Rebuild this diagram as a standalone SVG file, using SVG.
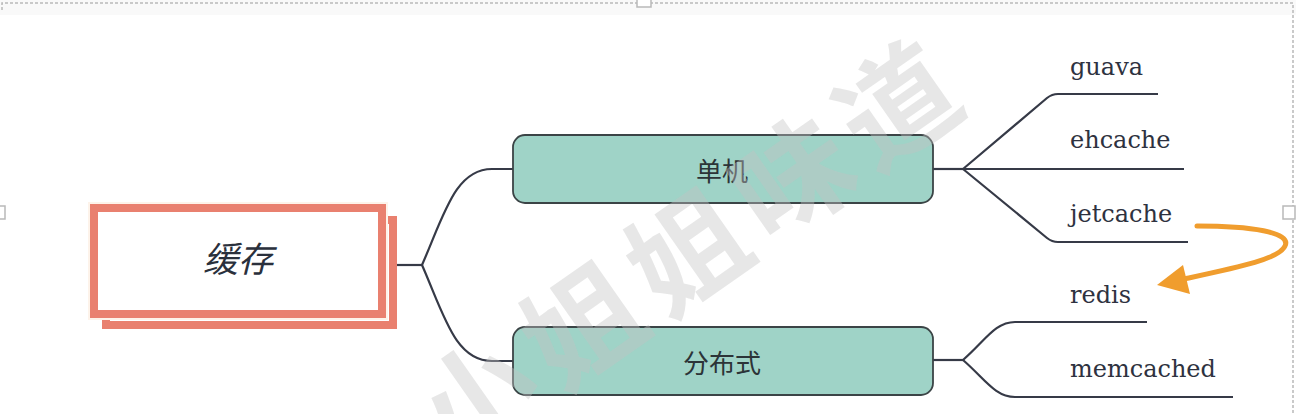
<svg xmlns="http://www.w3.org/2000/svg" width="1296" height="414" viewBox="0 0 1296 414">
<defs>
<style>
.frame{fill:none;stroke:#b9b9b9;stroke-width:1.5;stroke-dasharray:3 2}
.handle{fill:#ffffff;stroke:#b9b9b9;stroke-width:1.5}
.conn{fill:none;stroke:#363a47;stroke-width:2.2;stroke-linejoin:round}
.sub{fill:#9fd3c7;stroke:#3b4446;stroke-width:1.8}
.cn{font-family:"Noto Sans CJK SC","Noto Sans",sans-serif;fill:#2c3438;text-anchor:middle;dominant-baseline:central}
.leaf{font-family:"DejaVu Serif","Liberation Serif",serif;font-size:24px;fill:#2e3240}
.pink{fill:none;stroke:#e9806f;stroke-width:8}
</style>
</defs>
<rect x="0" y="0" width="1296" height="414" fill="#ffffff"/>
<rect x="0" y="0" width="1296" height="15" fill="#f9f9f9"/>
<g id="frame">
<path class="frame" d="M2,10 V3 H1293 V414"/>
<rect class="handle" x="637" y="-2" width="14" height="9"/>
<rect class="handle" x="-6" y="206" width="11" height="13"/>
<rect class="handle" x="1283" y="206" width="12" height="13"/>
</g>
<g id="connectors">
<path class="conn" d="M397,265 H422"/>
<path class="conn" d="M422,265 C444,215 455,169 492,169 H513"/>
<path class="conn" d="M422,265 C444,315 455,361 492,361 H513"/>
<path class="conn" d="M933,169 H963"/>
<path class="conn" d="M963,169 L1047,98 Q1052,94 1058,94 H1158"/>
<path class="conn" d="M963,169 H1184"/>
<path class="conn" d="M963,169 L1047,238 Q1052,242 1058,242 H1188"/>
<path class="conn" d="M933,360 H963"/>
<path class="conn" d="M963,360 C985,341 995,322 1015,322 H1147"/>
<path class="conn" d="M963,360 C985,379 995,397 1015,397 H1233"/>
</g>
<g id="root">
<rect class="pink" x="106" y="220" width="287" height="105"/>
<rect x="88" y="202" width="300" height="118" fill="#fdf3ea"/>
<rect class="pink" x="94" y="208" width="288" height="106" style="fill:#ffffff"/>
<text x="238" y="256" class="cn" font-size="35" font-style="italic" style="fill:#2a303c">缓存</text>
</g>
<g id="node-danji">
<rect class="sub" x="513" y="135" width="420" height="68" rx="12"/>
<text x="722" y="169" class="cn" font-size="26">单机</text>
</g>
<g id="node-fenbushi">
<rect class="sub" x="513" y="327" width="420" height="68" rx="12"/>
<text x="722" y="361" class="cn" font-size="26">分布式</text>
</g>
<g id="leaf-guava"><text class="leaf" x="1070" y="75">guava</text></g>
<g id="leaf-ehcache"><text class="leaf" x="1070" y="148">ehcache</text></g>
<g id="leaf-jetcache"><text class="leaf" x="1070" y="222">jetcache</text></g>
<g id="leaf-redis"><text class="leaf" x="1070" y="303">redis</text></g>
<g id="leaf-memcached"><text class="leaf" x="1070" y="377">memcached</text></g>
<g id="arrow">
<path d="M1197,226 C1250,226 1292,232 1285,246 C1279,259 1240,267 1184,279" fill="none" stroke="#f09d2e" stroke-width="5" stroke-linecap="round"/>
<polygon points="1157,285 1183,265 1190,294" fill="#f09d2e"/>
</g>
<g id="watermark">
<text x="0" y="0" transform="translate(688,242) rotate(-35)" font-family="Noto Sans CJK SC,sans-serif" font-weight="bold" font-size="116" letter-spacing="12" text-anchor="middle" dominant-baseline="central" fill="#c4c4c4" fill-opacity="0.4">小姐姐味道</text>
</g>
</svg>
